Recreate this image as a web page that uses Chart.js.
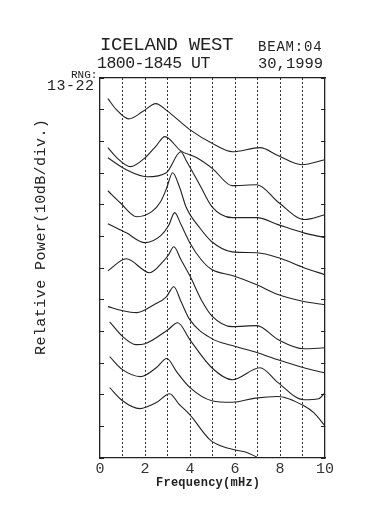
<!DOCTYPE html>
<html>
<head>
<meta charset="utf-8">
<script src="https://cdn.jsdelivr.net/npm/chart.js@4.4.1/dist/chart.umd.min.js"></script>
<style>
  html, body { margin: 0; padding: 0; background: #fff; }
  #wrap { position: relative; width: 374px; height: 515px; overflow: hidden; }
  #wrap canvas { position: absolute; left: 0; top: 0; }
  .t { position: absolute; font-family: 'Liberation Mono', monospace; color: #222; line-height: 1; white-space: pre; }
</style>
</head>
<body>
<div id="wrap">
  <canvas id="myChart" width="374" height="515"></canvas>
  <div class="t" style="left:100px; top:36px; font-size:19px; letter-spacing:-0.3px;">ICELAND WEST</div>
  <div class="t" style="left:258px; top:40px; font-size:14px; letter-spacing:0.8px;">BEAM:04</div>
  <div class="t" style="left:97px; top:56px; font-size:16.5px; letter-spacing:-0.5px;">1800-1845 UT</div>
  <div class="t" style="left:258px; top:57px; font-size:15.5px;">30,1999</div>
  <div class="t" style="left:71px; top:69.5px; font-size:11px;">RNG:</div>
  <div class="t" style="left:47px; top:78.5px; font-size:15px; letter-spacing:0.5px;">13-22</div>
  <div class="t" style="left:33.5px; top:354.5px; font-size:15px; letter-spacing:0.45px; transform-origin:0 0; transform:rotate(-90deg);">Relative Power(10dB/div.)</div>
  <div class="t" style="left:156px; top:477px; font-size:12px; font-weight:bold; letter-spacing:0.25px;">Frequency(mHz)</div>
</div>
<script>
// range gates, one spectrum each (top curve first)
const gates = ['13', '14', '15', '16', '17', '18', '19', '20', '21', '22'];
const xTickLabels = ['0', '2', '4', '6', '8', '10'];

// [frequency mHz, relative power dB (stacked, 10 dB/div)]
const rng13 = [[0.35,113.5],[0.73,110.0],[1.28,107.1],[1.9,109.4],[2.48,111.9],[2.97,109.7],[3.99,103.7],[5.1,98.9],[5.88,96.7],[7.11,98.0],[7.91,95.5],[8.97,92.6],[9.99,94.2]];
const rng14 = [[0.35,98.0],[0.75,94.8],[1.35,92.0],[2.0,94.8],[2.5,98.6],[2.88,101.5],[3.59,97.0],[4.3,94.8],[5.0,91.4],[5.88,86.0],[6.97,86.3],[7.95,80.6],[9.1,75.3],[9.99,76.8]];
const rng15 = [[0.35,94.8],[1.17,91.0],[2.08,88.8],[2.95,90.1],[3.59,96.7],[3.84,93.8],[4.43,86.3],[4.97,79.4],[5.88,75.9],[6.97,75.9],[7.91,73.7],[9.06,71.1],[9.99,69.6]];
const rng16 = [[0.35,84.4],[0.9,80.6],[1.63,76.2],[2.3,77.8],[2.7,81.0],[2.95,85.0],[3.23,90.1],[3.54,85.4],[3.84,79.0],[4.43,72.7],[4.97,68.3],[5.88,65.1],[6.97,64.8],[7.91,63.3],[9.06,60.1],[9.99,57.9]];
const rng17 = [[0.35,74.0],[1.17,71.1],[1.99,68.0],[2.7,70.2],[3.05,73.4],[3.32,77.5],[3.6,73.7],[3.99,68.0],[4.5,62.6],[4.97,59.5],[5.88,57.6],[6.97,54.7],[7.91,51.6],[9.06,49.4],[9.99,48.4]];
const rng18 = [[0.35,59.1],[1.17,62.9],[2.21,58.5],[2.8,62.0],[3.05,64.2],[3.28,66.7],[3.6,62.6],[3.99,57.6],[4.5,50.0],[4.97,44.9],[5.88,41.5],[6.97,41.8],[7.91,37.4],[9.06,34.5],[9.99,34.8]];
const rng19 = [[0.35,47.8],[1.0,46.5],[1.63,45.9],[2.4,48.4],[2.95,50.9],[3.28,54.1],[3.6,49.4],[3.99,43.7],[4.97,37.7],[5.88,35.5],[6.97,33.3],[7.91,31.0],[9.06,28.5],[9.99,26.9]];
const rng20 = [[0.43,43.0],[1.0,38.4],[1.6,35.8],[2.0,36.1],[3.02,40.5],[3.45,42.7],[3.99,37.4],[4.97,28.5],[5.88,24.7],[7.11,28.5],[7.91,23.8],[9.06,18.4],[9.72,18.7],[9.99,20.6]];
const rng21 = [[0.43,32.0],[1.0,27.9],[1.8,25.7],[2.5,28.5],[2.97,31.4],[3.4,27.3],[3.99,22.3],[4.97,18.1],[5.88,17.6],[6.9,18.9],[7.91,19.4],[9.06,16.5],[9.5,14.3],[9.99,10.2]];
const rng22 = [[0.43,22.2],[1.0,18.1],[1.77,15.6],[2.5,17.5],[3.1,20.3],[3.5,17.1],[3.99,13.7],[4.88,5.8],[5.45,3.6],[5.98,2.6],[6.5,1.8],[6.97,0.3]];

const spectra = [rng13, rng14, rng15, rng16, rng17, rng18, rng19, rng20, rng21, rng22];

const ink = '#222';

const config = {
    type: 'line',
    data: {
        datasets: spectra.map((d, i) => ({
            label: 'RNG ' + gates[i],
            data: d,
            borderColor: ink,
            borderWidth: 1.1,
            pointRadius: 0,
            fill: false,
            cubicInterpolationMode: 'monotone'
        }))
    },
    options: {
        responsive: false,
        animation: false,
        layout: { padding: 0 },
        plugins: {
            legend: { display: false },
            tooltip: { enabled: false }
        },
        scales: {
            x: {
                type: 'linear',
                position: 'bottom',
                min: 0,
                max: 10,
                afterFit: s => { s.height = 57; },
                ticks: {
                    stepSize: 1,
                    autoSkip: false,
                    maxRotation: 0,
                    padding: 2,
                    color: '#333',
                    font: { family: 'Liberation Mono', size: 15 },
                    callback: v => xTickLabels.includes(String(v)) ? String(v) : ''
                },
                grid: {
                    color: c => (c.tick && c.tick.value > 0 && c.tick.value < 10) ? '#333' : 'rgba(0,0,0,0)',
                    lineWidth: 1,
                    drawTicks: false
                },
                border: { display: true, color: ink, width: 1.3, dash: [2, 2] }
            },
            x2: {
                type: 'linear',
                position: 'top',
                min: 0,
                max: 10,
                afterFit: s => { s.height = 78; },
                ticks: { display: false },
                grid: { display: false },
                border: { display: true, color: ink, width: 1.3 }
            },
            y: {
                type: 'linear',
                position: 'left',
                min: 0,
                max: 120,
                afterFit: s => { s.width = 100; },
                ticks: { display: false, stepSize: 10 },
                grid: { drawOnChartArea: false, drawTicks: true, tickLength: -4, color: ink },
                border: { display: true, color: ink, width: 1.3 }
            },
            y2: {
                type: 'linear',
                position: 'right',
                min: 0,
                max: 120,
                afterFit: s => { s.width = 49; },
                ticks: { display: false, stepSize: 10 },
                grid: { drawOnChartArea: false, drawTicks: true, tickLength: -4, color: ink },
                border: { display: true, color: ink, width: 1.3 }
            }
        }
    }
};

let myChart = new Chart(document.getElementById('myChart'), config);
</script>
</body>
</html>
